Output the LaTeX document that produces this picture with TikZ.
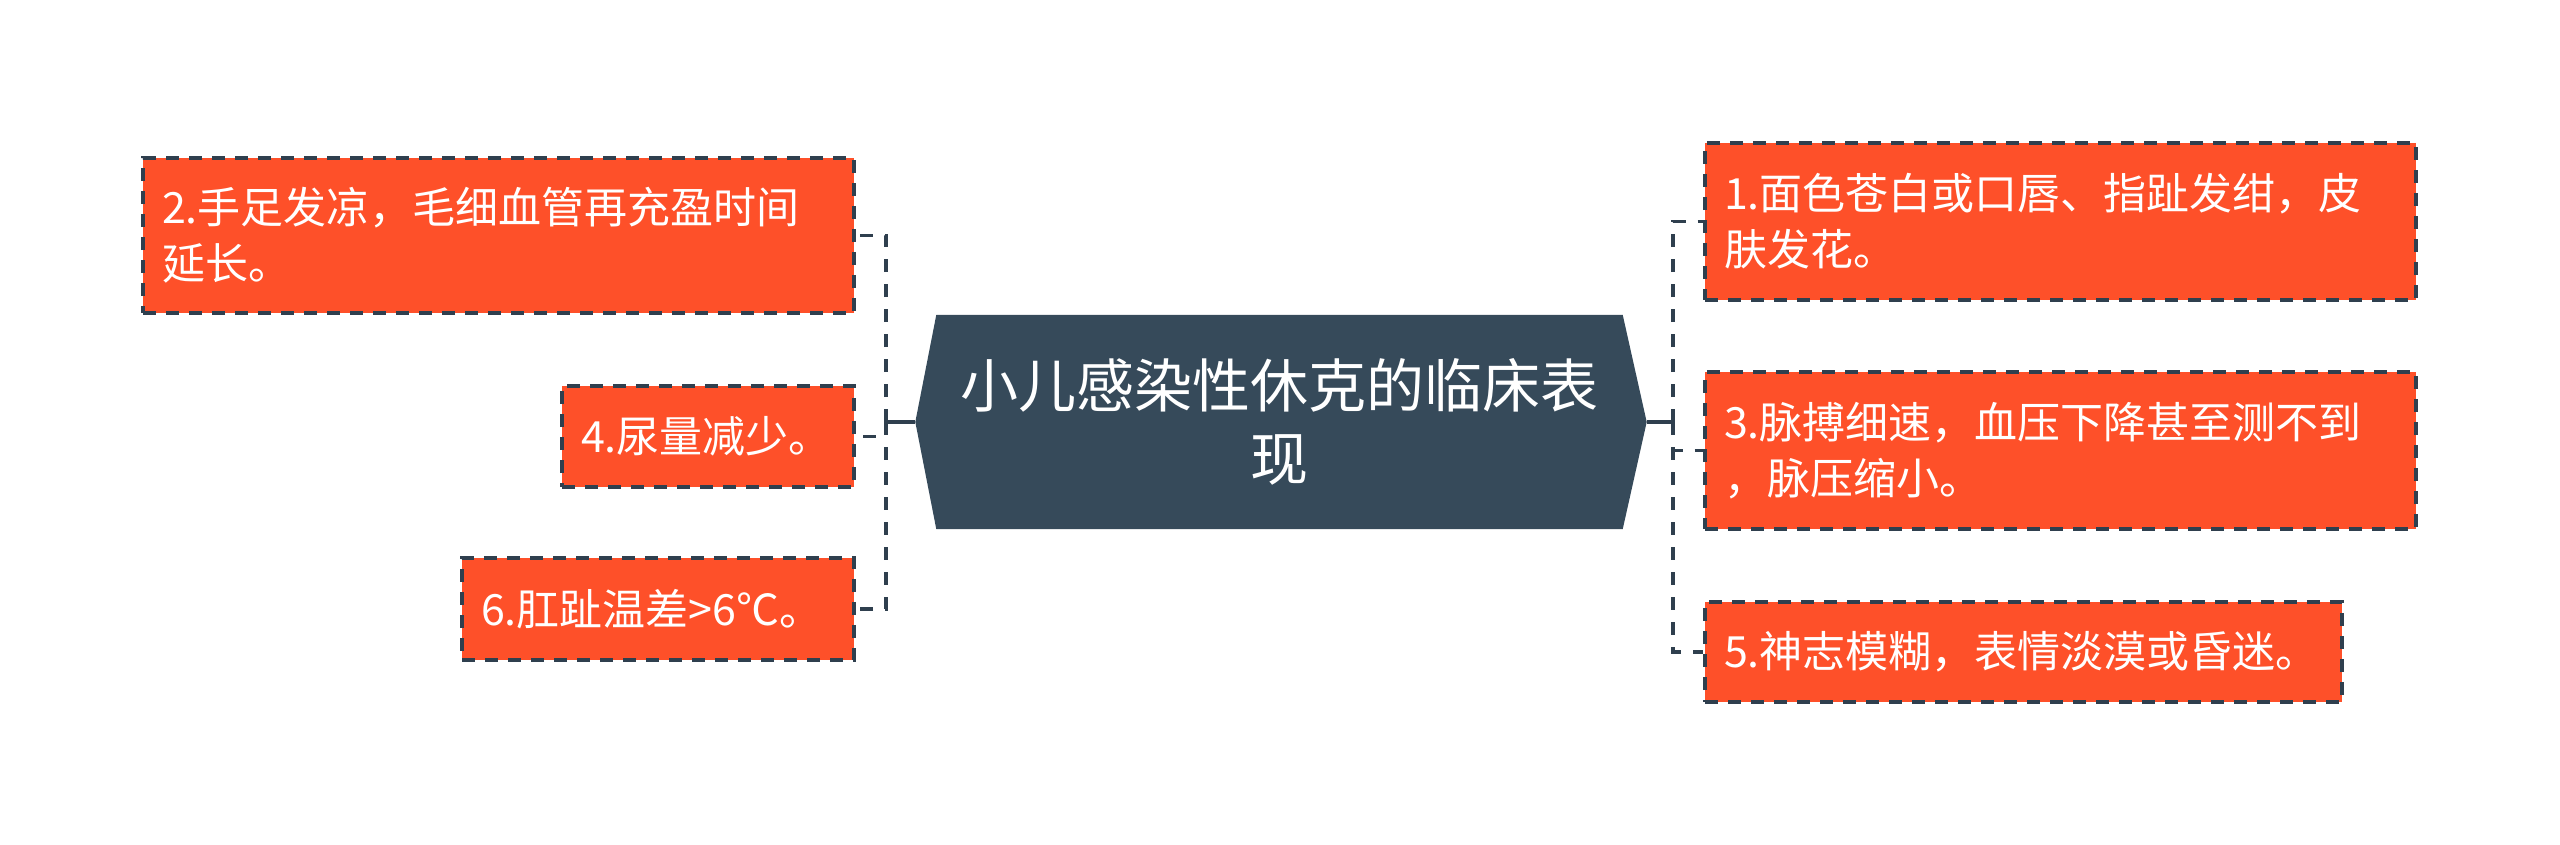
\documentclass[tikz,border=0pt]{standalone}
\usepackage{fontspec}
\setmainfont{Noto Sans CJK SC}
\usetikzlibrary{backgrounds}
\definecolor{orangebox}{HTML}{FE5029}
\definecolor{darkbox}{HTML}{364A5A}
\definecolor{lineclr}{HTML}{2F3F4E}
\tikzset{
  leaf/.style={draw=lineclr, fill=orangebox, line width=3.5pt, dash pattern=on 13pt off 10pt,
    text=white, font=\fontsize{43}{56}\selectfont, align=left, inner xsep=19pt, inner ysep=0pt},
  centre/.style={text=white, font=\fontsize{58}{73}\selectfont, align=center,
    minimum width=686pt, minimum height=214pt, inner sep=0pt},
  conn/.style={draw=lineclr, line width=3.5pt},
  dconn/.style={conn, dash pattern=on 13pt off 12pt}
}
\begin{document}
\begin{tikzpicture}[x=1pt,y=-1pt]
\useasboundingbox (0,0) rectangle (2560,845);

% centre
\node[centre] (c) at (1279.5,422) {小儿感染性休克的临床表\\现};
\begin{scope}[on background layer]
\fill[darkbox] (c.north west) -- (c.north east) -- ([xshift=24pt]c.east) -- (c.south east)
  -- (c.south west) -- ([xshift=-21pt]c.west) -- cycle;
\end{scope}
\coordinate (cl) at ([xshift=-21pt]c.west);
\coordinate (cr) at ([xshift=24pt]c.east);

% right leaves
\node[leaf, text width=673pt, minimum height=157pt] (b1) at (2060.5,221.5)
  {1.面色苍白或口唇、指趾发绀，皮\\肤发花。};
\node[leaf, text width=673pt, minimum height=157pt] (b3) at (2060.5,450.5)
  {3.脉搏细速，血压下降甚至测不到\\，脉压缩小。};
\node[leaf, text width=599pt, minimum height=100pt] (b5) at (2023.5,652)
  {5.神志模糊，表情淡漠或昏迷。};

% left leaves
\node[leaf, text width=673pt, minimum height=155pt] (b2) at (498.5,235.5)
  {2.手足发凉，毛细血管再充盈时间\\延长。};
\node[leaf, text width=254pt, minimum height=101pt] (b4) at (708,436.5)
  {4.尿量减少。};
\node[leaf, text width=354pt, minimum height=102pt] (b6) at (658,609)
  {6.肛趾温差>6℃。};

% connectors
\coordinate (jl) at (886,422);
\coordinate (jr) at (1673,422);
\draw[conn] (cl) -- (jl);
\draw[conn] (cr) -- (jr);
\draw[dconn] (jl) |- (b2.east);
\draw[dconn] (jl) |- (b4.east);
\draw[dconn] (jl) |- (b6.east);
\draw[dconn] (jr) |- (b1.west);
\draw[dconn] (jr) |- (b3.west);
\draw[dconn] (jr) |- (b5.west);
\end{tikzpicture}
\end{document}
